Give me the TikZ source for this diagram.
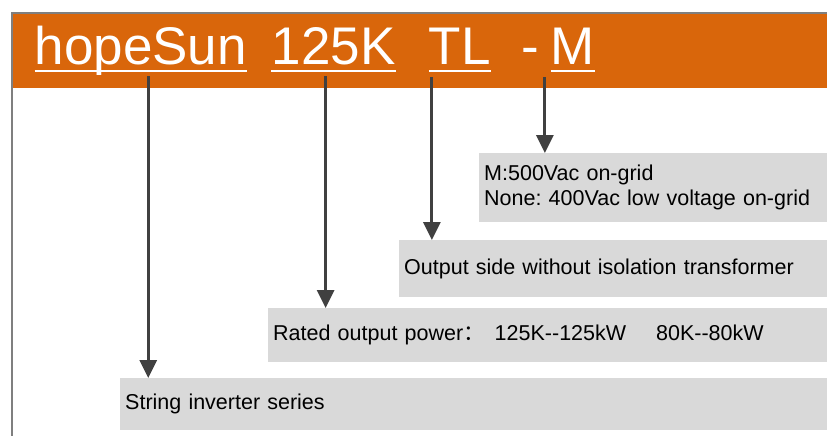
\documentclass[tikz,border=0pt]{standalone}
\usepackage{fontspec}
\setmainfont{Liberation Sans}
\newfontfamily\cjkfont{Noto Sans CJK SC}
\usetikzlibrary{arrows.meta,positioning}
\definecolor{BandOrange}{HTML}{D9660B}
\definecolor{FrameGray}{HTML}{7F7F7F}
\definecolor{ArrowGray}{HTML}{404040}
\definecolor{BoxGray}{HTML}{D9D9D9}
\frenchspacing

\begin{document}
\begin{tikzpicture}[x=1pt, y=-1pt,
    titleword/.style={inner sep=0pt, anchor=base west, text=white, font=\fontsize{53}{60}\selectfont},
    wordline/.style={white, line width=2.5pt},
    descbox/.style={fill=BoxGray, anchor=north west, align=left, inner xsep=5pt, inner ysep=0pt, font=\fontsize{21.5}{25}\selectfont},
    descarrow/.style={-{Triangle[width=17pt,length=18pt]}, line width=3pt, ArrowGray}]
        \useasboundingbox (0,0) rectangle (827,436);
        \fill[BandOrange] (12,13) rectangle (827,88);
        \draw[FrameGray, line width=1.5pt] (12,436) -- (12,13) -- (827,13);
        % model code
        \node[titleword] (hs) at (34.5,65) {hopeSun};
        \node[titleword, right=24.3pt of hs.base east, anchor=base west] (pw) {125K};
        \node[titleword, right=33.2pt of pw.base east, anchor=base west] (tl) {TL};
        \node[titleword, right=30.7pt of tl.base east, anchor=base west] (dash) {-};
        \node[titleword, right=10.8pt of dash.base east, anchor=base west] (mm) {M};
        \foreach \w in {hs,pw,tl,mm}
          \draw[wordline] ([yshift=-6pt]\w.base west) -- ([yshift=-6pt]\w.base east);
        % meanings
        \node[descbox, text width=338pt, minimum height=69pt] (mdesc) at (479,153) {M:500Vac on-grid\\None: 400Vac low voltage on-grid};
        \node[descbox, text width=418pt, minimum height=57pt] (tldesc) at (399,240) {Output side without isolation transformer};
        \node[descbox, text width=549pt, minimum height=54pt] (pwdesc) at (268,308) {Rated output power{\cjkfont ：}\hspace{10pt}125K-{}-125kW\hspace{30pt}80K-{}-80kW};
        \node[descbox, text width=697pt, minimum height=52pt] (hsdesc) at (120,378) {String inverter series};
        \draw[descarrow] ([xshift=7.4pt,yshift=-11pt]hs.base) -- ([xshift=7.4pt]hs.base |- hsdesc.north);
        \draw[descarrow] ([xshift=-7.9pt,yshift=-11pt]pw.base) -- ([xshift=-7.9pt]pw.base |- pwdesc.north);
        \draw[descarrow] ([xshift=-28pt,yshift=-12pt]tl.base) -- ([xshift=-28pt]tl.base |- tldesc.north);
        \draw[descarrow] ([xshift=-28pt,yshift=-12pt]mm.base) -- ([xshift=-28pt]mm.base |- mdesc.north);
\end{tikzpicture}
\end{document}
